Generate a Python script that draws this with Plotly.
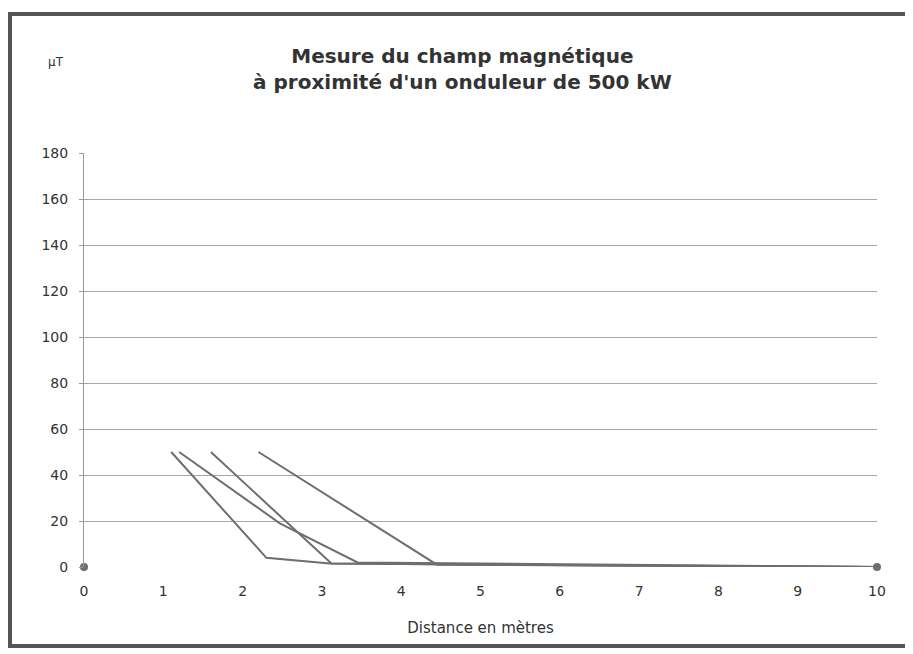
import plotly.graph_objects as go

# Data (distance in metres, field in µT)
series_a_x = [1.1, 2.3, 3.1, 10]
series_a_y = [50, 4, 1.5, 0]
series_b_x = [1.2, 2.47, 3.45, 10]
series_b_y = [50, 19, 2, 0]
series_c_x = [1.6, 3.12, 10]
series_c_y = [50, 1.5, 0]
series_d_x = [2.2, 4.45, 10]
series_d_y = [50, 1, 0]
end_x = [0, 10]
end_y = [0, 0]

y_ticks = [0, 20, 40, 60, 80, 100, 120, 140, 160, 180]
x_ticks = [0, 1, 2, 3, 4, 5, 6, 7, 8, 9, 10]

line_color = "#6e6e6e"
font_family = "DejaVu Sans"

fig = go.Figure()
for xs, ys in [(series_a_x, series_a_y), (series_b_x, series_b_y),
               (series_c_x, series_c_y), (series_d_x, series_d_y)]:
    fig.add_trace(go.Scatter(x=xs, y=ys, mode="lines",
                             line=dict(color=line_color, width=2),
                             showlegend=False, hoverinfo="x+y"))
fig.add_trace(go.Scatter(x=end_x, y=end_y, mode="markers",
                         marker=dict(color=line_color, size=8, symbol="circle"),
                         showlegend=False, cliponaxis=False))

fig.update_layout(
    width=913, height=654,
    margin=dict(l=76, r=44, t=145, b=95),
    paper_bgcolor="white", plot_bgcolor="white",
    font=dict(family=font_family, color="#333333", size=13),
    showlegend=False,
    xaxis=dict(range=[0, 10], tickvals=x_ticks, ticktext=[str(v) for v in x_ticks],
               showgrid=False, zeroline=False, showline=False,
               ticks="", ticklen=0, ticklabelstandoff=14,
               tickfont=dict(size=14, color="#333"),
               title=dict(text="Distance en mètres", font=dict(size=15, color="#333"), standoff=24)),
    yaxis=dict(range=[0, 180], tickvals=y_ticks, ticktext=[str(v) for v in y_ticks],
               showgrid=True, gridcolor="#a8a8a8", gridwidth=1,
               zeroline=False, showline=True, linecolor="#9a9a9a", linewidth=1,
               ticks="outside", ticklen=4, tickcolor="#9a9a9a", ticklabelstandoff=8,
               tickfont=dict(size=14, color="#333")),
    annotations=[
        dict(text="<b>Mesure du champ magnétique<br>à proximité d'un onduleur de 500 kW</b>",
             xref="paper", yref="paper", x=(462 - 84) / 793, y=(567 - 69) / 414,
             xanchor="center", yanchor="middle", showarrow=False,
             font=dict(size=20, color="#333333", family=font_family)),
        dict(text="µT", xref="paper", yref="paper",
             x=(56 - 84) / 793, y=(567 - 62) / 414,
             xanchor="center", yanchor="middle", showarrow=False,
             font=dict(size=12, color="#333333", family=font_family)),
    ],
    shapes=[
        dict(type="rect", xref="paper", yref="paper",
             x0=(10 - 84) / 793, x1=(960 - 84) / 793,
             y0=(567 - 646) / 414, y1=(567 - 14) / 414,
             line=dict(color="#555555", width=4), fillcolor="rgba(0,0,0,0)", layer="below"),
    ],
)

fig.write_html("out.html")
